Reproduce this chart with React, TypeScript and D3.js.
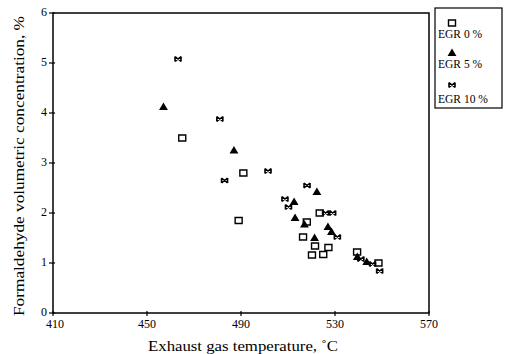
import React from "react";
import * as d3 from "d3";

// Exhaust gas temperature (°C) and formaldehyde concentration (%) for each EGR rate
const egr0Temp = [465, 491, 489, 523.5, 518, 516.4, 521.5, 527.2, 520.2, 525, 539.4, 548.5];
const egr0Conc = [3.5, 2.8, 1.85, 2.0, 1.82, 1.52, 1.34, 1.31, 1.16, 1.17, 1.22, 1.0];

const egr5Temp = [457, 487, 522.3, 512.6, 513, 517, 527, 528.5, 521.3, 539.5, 543.5];
const egr5Conc = [4.12, 3.25, 2.42, 2.22, 1.9, 1.77, 1.72, 1.62, 1.5, 1.12, 1.02];

const egr10Temp = [463.2, 481, 483, 501.5, 518.1, 508.7, 510.2, 526, 529, 531, 541, 546, 549];
const egr10Conc = [5.08, 3.88, 2.65, 2.84, 2.55, 2.28, 2.12, 2.0, 2.0, 1.52, 1.08, 0.98, 0.84];

const xTicks = [410, 450, 490, 530, 570];
const yTicks = [0, 1, 2, 3, 4, 5, 6];
const legendLabels = ["EGR 0 %", "EGR 5 %", "EGR 10 %"];

const W = 508;
const H = 354;
const plot = { left: 53, right: 429, top: 13, bottom: 313 };
const FONT = "'Liberation Serif', 'Times New Roman', serif";

const x = d3.scaleLinear().domain([410, 570]).range([plot.left, plot.right]);
const y = d3.scaleLinear().domain([0, 6]).range([plot.bottom, plot.top]);

const squarePath = "M-3.5,-3 H3.5 V3 H-3.5 Z";
const trianglePath = d3.symbol().type(d3.symbolTriangle).size(34)() as string;
const starPath = "M-3,-2.5 L3,2.5 M-3,2.5 L3,-2.5 M-3,-2.5 V2.5 M3,-2.5 V2.5";

function Marker({ kind, cx, cy }: { kind: number; cx: number; cy: number }) {
  if (kind === 0)
    return <path d={squarePath} transform={`translate(${cx},${cy})`} fill="none" stroke="#000" strokeWidth={1.4} />;
  if (kind === 1)
    return <path d={trianglePath} transform={`translate(${cx},${cy + 0.5})`} fill="#000" />;
  return <path d={starPath} transform={`translate(${cx},${cy})`} fill="none" stroke="#000" strokeWidth={1.6} />;
}

export default function App() {
  const series = [
    { t: egr0Temp, c: egr0Conc },
    { t: egr5Temp, c: egr5Conc },
    { t: egr10Temp, c: egr10Conc },
  ];
  const legendMarkerY = [23, 53, 85];
  const legendTextY = [38, 68, 103];

  return (
    <div style={{ position: "fixed", left: 0, top: 0 }}>
      <svg width={W} height={H} style={{ display: "block", background: "#fff" }} fontFamily={FONT}>
        {/* plot frame */}
        <rect
          x={plot.left}
          y={plot.top}
          width={plot.right - plot.left}
          height={plot.bottom - plot.top}
          fill="none"
          stroke="#000"
          strokeWidth={1.5}
        />
        {/* y axis ticks */}
        {yTicks.map((v) => (
          <g key={`y${v}`}>
            <line x1={plot.left - 4} x2={plot.left + 2} y1={y(v)} y2={y(v)} stroke="#000" strokeWidth={1.2} />
            <text x={plot.left - 6} y={y(v) + 3} fontSize={12} textAnchor="end">
              {v}
            </text>
          </g>
        ))}
        {/* x axis ticks */}
        {xTicks.map((v) => (
          <g key={`x${v}`}>
            <line x1={x(v)} x2={x(v)} y1={plot.bottom - 2} y2={plot.bottom + 3} stroke="#000" strokeWidth={1.2} />
            <text x={x(v) + (v === 410 ? 2 : 0)} y={plot.bottom + 15} fontSize={12} textAnchor="middle">
              {v}
            </text>
          </g>
        ))}
        {/* axis titles */}
        <text x={243} y={351} fontSize={14} textAnchor="middle" textLength={190} lengthAdjust="spacingAndGlyphs">
          Exhaust gas temperature, ˚C
        </text>
        <text
          transform="translate(24,166) rotate(-90)"
          fontSize={14}
          textAnchor="middle"
          textLength={300}
          lengthAdjust="spacingAndGlyphs"
        >
          Formaldehyde volumetric concentration, %
        </text>
        {/* data points */}
        {series.map((s, k) =>
          s.t.map((t, i) => <Marker key={`${k}-${i}`} kind={k} cx={x(t)} cy={y(s.c[i])} />)
        )}
        {/* legend */}
        <rect x={435} y={8} width={67} height={100} fill="#fff" stroke="#000" strokeWidth={1.2} />
        {legendLabels.map((lab, k) => (
          <g key={lab}>
            <Marker kind={k} cx={452} cy={legendMarkerY[k]} />
            <text x={438} y={legendTextY[k]} fontSize={11.5}>
              {lab}
            </text>
          </g>
        ))}
      </svg>
    </div>
  );
}
